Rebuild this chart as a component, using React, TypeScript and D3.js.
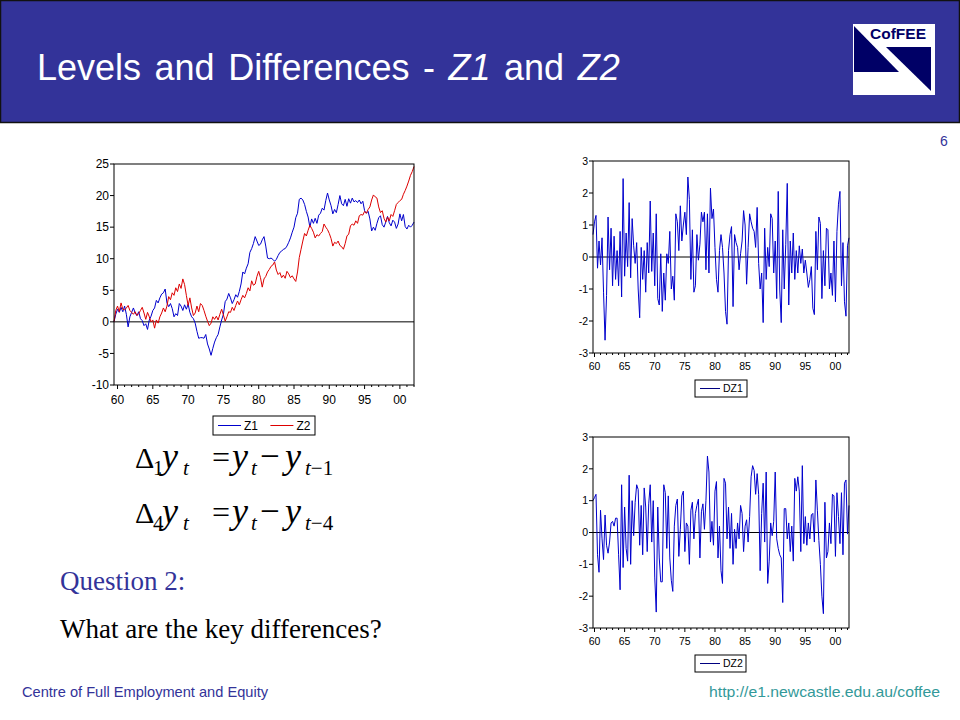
import React from 'react';
import * as d3 from 'd3';

// ---------- DATA (quarterly) ----------
const LEVEL_START = 1959.5;
const DIFF_START = 1959.75;

const Z1 = [
  0, 1.2,
  2.0, 1.5, 2.3, 1.6,
  2.5, 1.2, -0.8, 0.8,
  1.5, 2.2, 1.4, 1.0,
  1.6, 0.5, 0.2, -0.6,
  -0.3, -1.2, 0.3, 0.9,
  1.8, 2.2, 3.4, 3.0,
  3.8, 4.4, 4.6, 5.2,
  3.0, 2.4, 2.9, 2.1,
  0.8, 1.3, 1.0, 2.9,
  2.5, 1.8, 2.7, 2.0,
  2.8, 1.5, 0.8, 0.5,
  -0.2, -1.5, -2.6, -2.5,
  -2.5, -2.6, -2.0, -3.5,
  -4.3, -5.3, -4.2, -3.2,
  -2.5, -2.0, -0.8, 0.3,
  1.2, 3.2, 3.6, 4.5,
  3.8, 2.9, 3.5, 4.3,
  3.9, 4.8, 6.0, 7.9,
  7.6, 8.5, 9.2, 11.0,
  11.6, 12.4, 13.5, 12.8,
  12.1, 12.3, 13.0, 13.5,
  12.0, 10.1, 10.0, 10.1,
  9.9, 9.6, 9.9, 10.5,
  11.0, 11.2, 11.5, 11.6,
  12.0, 12.6, 13.3, 14.2,
  15.0, 16.5, 17.2, 19.4,
  19.6, 19.3, 18.6, 17.5,
  16.6, 15.0, 16.3, 15.6,
  16.4, 15.6, 16.9, 17.2,
  18.0, 17.7, 19.2, 20.4,
  19.3, 18.4, 17.1, 17.8,
  17.3, 18.6, 20.0, 18.7,
  18.4, 19.4, 18.3, 19.5,
  18.8, 19.6, 19.0, 19.2,
  18.9, 19.3, 18.7, 19.1,
  17.6, 17.2, 17.5, 16.3,
  14.4, 15.0, 14.5, 15.6,
  16.5, 16.8, 15.4, 15.0,
  15.8, 16.7, 15.7, 15.2,
  16.1, 15.8, 14.8, 15.5,
  17.1, 16.0, 17.0, 15.1,
  14.7, 15.3, 15.0, 15.3,
  15.8,
];

const Z2 = [
  0, 1.8,
  2.5, 1.6, 3.0, 2.0,
  1.9, 2.2, 2.6, 1.8,
  1.5, 1.2, 1.6, 1.0,
  1.3, 1.8, 2.3, 1.4,
  0.4, 1.5, 0.8, 0.0,
  0.3, -1.0, 0.3, -0.2,
  0.8, 1.4, 2.2, 1.6,
  2.5, 4.0, 3.5, 4.6,
  4.2, 5.4, 4.8, 6.0,
  5.3, 6.8, 5.9, 4.2,
  2.6, 3.8, 2.2, 1.0,
  1.4, 2.5, 1.6, 2.9,
  2.6, 1.8, 0.9, 0.1,
  -0.6, -0.2, 0.8, 0.4,
  0.9, 0.3, 1.2, 2.0,
  1.1, 0.1, 0.8, 1.6,
  1.5, 2.3, 1.8, 2.6,
  3.3, 2.7, 3.5, 4.2,
  3.8, 4.5, 5.4, 4.9,
  6.5, 5.8, 6.0, 7.2,
  8.0, 7.0, 5.5, 6.8,
  7.2, 7.9, 8.3, 8.8,
  9.0, 9.5, 8.2, 7.5,
  7.8, 7.0, 7.4, 6.9,
  8.0, 7.6, 7.0, 7.3,
  6.8, 6.4, 7.9, 10.2,
  11.5, 12.8, 14.0, 13.6,
  14.5, 15.3, 14.8, 14.2,
  13.3, 13.8, 13.6, 14.0,
  14.3, 15.5, 15.0, 14.6,
  14.0, 13.2, 12.0, 12.6,
  12.4, 12.8, 12.1, 11.9,
  11.5, 12.4, 13.6, 13.9,
  15.2, 15.5, 15.3, 16.0,
  15.6, 16.8, 17.0, 16.9,
  17.5, 17.2, 17.8, 18.2,
  19.3, 20.1, 19.8, 19.6,
  18.2, 17.3, 17.6, 16.4,
  15.8, 16.6, 16.0, 17.0,
  16.7, 17.6, 18.6, 18.9,
  19.2, 19.4, 20.2, 20.8,
  21.5, 22.3, 23.2, 23.8,
  24.6,
];

const DZ1 = [
  0.7, 1.1, 1.3, -0.35, 0.5, -0.25, 0.6, -1.1, -2.6, -1.2,
  1.25, -0.4, 0.9, -0.9, 0.65, -0.7, 0.2, -0.9, 0.8, -1.25,
  2.45, -0.6, 0.75, -0.3, 1.7, -0.65, 1.2, 0.35, -0.2, 0.45,
  -1.0, -1.9, 0.3, -0.7, 0.2, -1.1, 0.45, -0.5, 1.75, -0.45,
  0.75, -0.9, 1.35, -1.3, -1.5, 0.1, -1.7, -0.5, -1.35, 0.1,
  -0.2, 0.8, -1.0, -0.6, -1.35, 1.35, 1.1, 0.2, 1.6, 0.5,
  1.0, 1.4, 0.7, 2.5, 1.8, -0.7, 0.85, -1.1, -0.9, 0.7,
  -0.1, 0.4, 1.4, 1.1, 1.4, -0.4, 1.35, -0.5, 2.15, 1.2,
  1.5, 0.3, -0.7, -1.1, 0.2, 0.7, 0.3, -0.5, -1.7, -2.1,
  0.2, 0.7, 0.95, -1.55, 0.7, 0.45, 0.3, -0.4, 0.1, 0.5,
  1.45, 1.0, -0.85, 0.3, 1.35, 1.1, 0.9, 0.8, 0.3, 1.55,
  -0.2, -1.0, -0.5, -2.05, 0.9, -0.7, 0.3, -0.3, 1.35, 1.2,
  -0.5, 0.5, -1.3, 2.05, -1.0, -2.05, 0.85, -1.0, 0.4, 2.3,
  -1.5, 0.5, -0.5, 0.75, -0.7, 0.2, -0.5, 0.35, -0.2, 0.25,
  -0.5, -0.1, -0.5, -0.95, -0.7, -0.3, -1.6, -1.8, 0.8, -0.4,
  1.25, 1.05, -1.3, 0.2, -0.9, 0.9, 0.85, -1.0, -0.5, -1.2,
  0.5, -1.4, 0.8, 1.65, 2.05, -0.9, 0.45, -1.4, -1.85, 0.35,
  0.6,
];

const DZ2 = [
  1.0, 1.1, 1.2, -0.7, -1.25, 0.7, -0.2, -0.85, 0.55, -0.4,
  -0.65, -0.3, 0.3, 0.35, 0.2, 0.45, 0.45, -0.7, -1.8, 1.5,
  -1.1, 0.8, -0.5, -0.9, 1.8, -1.0, 1.0, -0.1, 0.95, 1.5,
  1.35, -0.4, 0.85, -0.7, 1.4, 0.8, -0.6, 0.9, 1.5, -0.3,
  1.0, -1.4, -2.5, 0.8, -0.8, -1.55, -1.55, 1.5, 1.25, -0.5,
  1.15, -0.8, -1.5, -1.85, 0.2, 0.85, 1.05, -0.75, 0.1, 1.15,
  1.3, -0.6, 0.3, 0.2, -1.0, 0.7, 0.95, -0.2, 0.6, 0.85,
  1.05, -0.8, 0.65, 0.9, 0.1, 1.0, 2.4, 1.9, -0.3, 0.35,
  -0.4, 1.3, 1.6, -0.8, 0.2, -1.2, -1.6, 1.7, 1.55, -0.2,
  0.8, -0.5, 0.6, -1.0, 0.1, -0.5, 0.3, -0.2, 0.85, 0.6,
  -0.6, 0.2, 0.4, -0.3, 0.5, 1.75, 2.1, 1.95, 1.2, 1.85,
  1.2, -1.2, 0.6, 1.55, -0.3, 1.9, -1.6, -0.9, 0.3, -0.1,
  0.35, 1.9, -0.2, -0.5, -0.7, -0.8, -2.2, 0.75, 0.75, -0.2,
  0.3, -0.6, 0.2, -0.9, 1.7, 1.3, 1.75, 1.3, -0.6, 2.1,
  -0.35, 0.5, -0.4, 0.3, -0.2, 0.55, 0.6, -0.3, 1.65, 0.7,
  -0.25, -1.0, -2.0, -2.55, 0.95, -0.8, -0.6, 0.3, -0.35, 1.2,
  1.15, -0.75, 1.25, 0.5, -0.35, 1.25, -0.7, 1.55, 1.65, -0.05,
  0.85,
];

const LEVEL_Y_TICKS = [-10, -5, 0, 5, 10, 15, 20, 25];
const DIFF_Y_TICKS = [-3, -2, -1, 0, 1, 2, 3];
const YEAR_LABELS = [1960, 1965, 1970, 1975, 1980, 1985, 1990, 1995, 2000];
const yearText = (y: number) => String(y % 100).padStart(2, '0');

const SANS = "'Liberation Sans', Arial, sans-serif";
const SERIF = "'Liberation Serif', 'Times New Roman', serif";
const NAVY = '#333399';
const BLUE = '#0000cc';
const RED = '#dd0000';

type Series = { data: number[]; start: number; color: string };
type LegendItem = { label: string; color: string };

function TimeChart(props: {
  left: number; top: number; right: number; bottom: number;
  yDomain: [number, number]; yTicks: number[];
  series: Series[];
  fontSize: number; xLabelBaseline: number;
  legend: { x: number; y: number; w: number; h: number; items: LegendItem[]; lineLen: number; gap: number };
}) {
  const { left, top, right, bottom, yDomain, yTicks, series, fontSize, xLabelBaseline, legend } = props;
  const s0 = series[0];
  const t0 = s0.start;
  const t1 = s0.start + (s0.data.length - 1) * 0.25;
  const x = d3.scaleLinear().domain([t0, t1]).range([left, right]);
  const y = d3.scaleLinear().domain(yDomain).range([bottom, top]);
  const minor = d3.range(Math.ceil(t0), Math.floor(t1) + 1);
  const line = (s: Series) =>
    d3.line<number>()
      .x((_, i) => x(s.start + i * 0.25))
      .y((v) => y(v))(s.data) || '';
  let lx = legend.x + 5;
  return (
    <g>
      <line x1={left} x2={right} y1={y(0)} y2={y(0)} stroke="#000" strokeWidth={1} />
      {series.map((s, i) => (
        <path key={i} d={line(s)} fill="none" stroke={s.color} strokeWidth={1} />
      ))}
      <rect x={left} y={top} width={right - left} height={bottom - top} fill="none" stroke="#000" strokeWidth={1} />
      {yTicks.map((v) => (
        <g key={v}>
          <line x1={left - 4} x2={left} y1={y(v)} y2={y(v)} stroke="#000" />
          <text x={left - 5} y={y(v) + fontSize * 0.36} textAnchor="end" fontSize={fontSize} fontFamily={SANS}>{v}</text>
        </g>
      ))}
      {minor.map((yr) => (
        <line key={yr} x1={x(yr)} x2={x(yr)} y1={bottom} y2={bottom + (yr % 5 === 0 ? 4 : 2)} stroke="#000" />
      ))}
      {YEAR_LABELS.map((yr) => (
        <text key={yr} x={x(yr)} y={xLabelBaseline} textAnchor="middle" fontSize={fontSize} fontFamily={SANS}>{yearText(yr)}</text>
      ))}
      <rect x={legend.x} y={legend.y} width={legend.w} height={legend.h} fill="#fff" stroke="#000" strokeWidth={1} />
      {legend.items.map((it, i) => {
        const x0 = lx;
        const tw = it.label.length * fontSize * 0.6;
        lx = x0 + legend.lineLen + 3 + tw + legend.gap;
        return (
          <g key={i}>
            <line x1={x0} x2={x0 + legend.lineLen} y1={legend.y + legend.h / 2} y2={legend.y + legend.h / 2} stroke={it.color} />
            <text x={x0 + legend.lineLen + 3} y={legend.y + legend.h / 2 + fontSize * 0.36} fontSize={fontSize} fontFamily={SANS}>{it.label}</text>
          </g>
        );
      })}
    </g>
  );
}

function Formula(props: { x: number; y: number; lag: string }) {
  const { x, y, lag } = props;
  const sub = 21;
  return (
    <g fontFamily={SERIF} fill="#000">
      <text x={x} y={y} fontSize={30}>Δ</text>
      <text x={x + 18} y={y + 7} fontSize={sub}>{lag}</text>
      <text x={x + 27} y={y} fontSize={36} fontStyle="italic">y</text>
      <text x={x + 48} y={y + 7} fontSize={sub} fontStyle="italic">t</text>
      <text x={x + 77} y={y} fontSize={32}>=</text>
      <text x={x + 97} y={y} fontSize={36} fontStyle="italic">y</text>
      <text x={x + 116} y={y + 7} fontSize={sub} fontStyle="italic">t</text>
      <text x={x + 125} y={y} fontSize={35}>−</text>
      <text x={x + 150} y={y} fontSize={36} fontStyle="italic">y</text>
      <text x={x + 170} y={y + 7} fontSize={sub}><tspan fontStyle="italic">t</tspan>−{lag}</text>
    </g>
  );
}

export default function App() {
  return (
    <svg width={960} height={720} viewBox="0 0 960 720"
      style={{ position: 'absolute', left: 0, top: 0, display: 'block', background: '#fff' }}>
      <rect x={0} y={0} width={960} height={720} fill="#fff" />
      {/* header */}
      <rect x={0.5} y={0.5} width={959} height={122} fill={NAVY} stroke="#111" strokeWidth={1.5} />
      <text x={37} y={80} fontSize={36} fill="#fff" fontFamily={SANS} wordSpacing={3.5}>
        Levels and Differences - <tspan fontStyle="italic">Z1</tspan> and <tspan fontStyle="italic">Z2</tspan>
      </text>
      {/* logo */}
      <rect x={853} y={24} width={82} height={71} fill="#fff" />
      <polygon points="854,26 854,72 899,72" fill="#000066" />
      <polygon points="886,47 931,47 931,91" fill="#000066" />
      <text x={870} y={39} fontSize={15.5} fontWeight="bold" fill="#000066" fontFamily={SANS}>CofFEE</text>
      {/* page number */}
      <text x={944} y={146} fontSize={14} fill={NAVY} textAnchor="middle" fontFamily={SANS}>6</text>

      {/* levels chart */}
      <TimeChart left={114} top={164} right={414} bottom={385}
        yDomain={[-10, 25]} yTicks={LEVEL_Y_TICKS}
        series={[{ data: Z1, start: LEVEL_START, color: BLUE }, { data: Z2, start: LEVEL_START, color: RED }]}
        fontSize={12} xLabelBaseline={404}
        legend={{ x: 213, y: 416, w: 102, h: 19, items: [{ label: 'Z1', color: BLUE }, { label: 'Z2', color: RED }], lineLen: 23, gap: 12 }} />

      {/* DZ1 chart */}
      <TimeChart left={593} top={161} right={849} bottom={353}
        yDomain={[-3, 3]} yTicks={DIFF_Y_TICKS}
        series={[{ data: DZ1, start: DIFF_START, color: BLUE }]}
        fontSize={10.5} xLabelBaseline={370}
        legend={{ x: 695, y: 380, w: 52, h: 17, items: [{ label: 'DZ1', color: '#000080' }], lineLen: 20, gap: 4 }} />

      {/* DZ2 chart */}
      <TimeChart left={593} top={437} right={849} bottom={628}
        yDomain={[-3, 3]} yTicks={DIFF_Y_TICKS}
        series={[{ data: DZ2, start: DIFF_START, color: BLUE }]}
        fontSize={10.5} xLabelBaseline={645}
        legend={{ x: 695, y: 655, w: 51, h: 17, items: [{ label: 'DZ2', color: '#000080' }], lineLen: 20, gap: 4 }} />

      {/* formulas */}
      <Formula x={135} y={468} lag="1" />
      <Formula x={135} y={523} lag="4" />

      <text x={60} y={590} fontSize={27} fill={NAVY} fontFamily={SERIF}>Question 2:</text>
      <text x={60} y={638} fontSize={27} fill="#000" fontFamily={SERIF}>What are the key differences?</text>

      {/* footer */}
      <text x={22} y={697} fontSize={14.5} fill={NAVY} fontFamily={SANS} textLength={246} lengthAdjust="spacingAndGlyphs">Centre of Full Employment and Equity</text>
      <text x={709} y={697} fontSize={14.5} fill="#339999" fontFamily={SANS} textLength={231} lengthAdjust="spacingAndGlyphs">http://e1.newcastle.edu.au/coffee</text>
    </svg>
  );
}
